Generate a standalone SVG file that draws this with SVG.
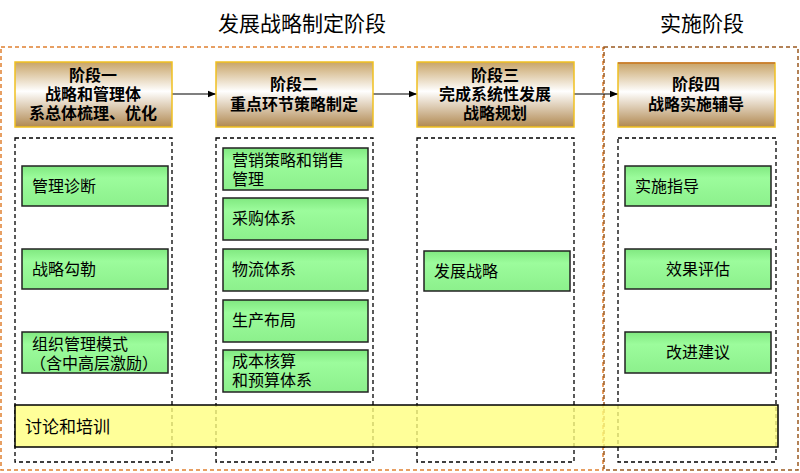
<svg xmlns="http://www.w3.org/2000/svg" width="800" height="473" viewBox="0 0 800 473">
<defs>
<linearGradient id="hg" x1="0" y1="0" x2="0" y2="1">
<stop offset="0" stop-color="#c8a468"/><stop offset="0.45" stop-color="#ffffff"/><stop offset="1" stop-color="#b08850"/>
</linearGradient>
<linearGradient id="gg" x1="0" y1="0" x2="0" y2="1">
<stop offset="0" stop-color="#80e880"/><stop offset="0.3" stop-color="#9cfc9c"/><stop offset="1" stop-color="#8cf08c"/>
</linearGradient>
<marker id="ar" viewBox="0 0 10 10" refX="10" refY="5" markerWidth="7" markerHeight="7" orient="auto"><path d="M0,1 L10,5 L0,9 z" fill="#000"/></marker>
</defs>
<style>
text{font-family:"Liberation Sans","Noto Sans CJK SC",sans-serif;fill:#000}
.h{fill:url(#hg);stroke:#f0c020;stroke-width:1.5}
.ht{font-size:16px;font-weight:bold;text-anchor:middle}
.col{fill:none;stroke:#000;stroke-dasharray:4,3;stroke-width:1.3}
.g{fill:url(#gg);stroke:#222;stroke-width:1.5}
.gt{font-size:16px}
.title{font-size:21px;text-anchor:middle}
</style>
<rect width="800" height="473" fill="#fff"/>
<text class="title" x="302" y="31">发展战略制定阶段</text>
<text class="title" x="702" y="31">实施阶段</text>
<rect x="1" y="47" width="602" height="423" fill="none" stroke="#e08030" stroke-dasharray="4,3" stroke-width="1.5"/>
<rect x="604" y="47" width="194" height="423" fill="none" stroke="#9a5a20" stroke-dasharray="4,3" stroke-width="1.5"/>
<g id="cols">
<rect class="col" x="15" y="138" width="157" height="324"/>
<rect class="col" x="216" y="138" width="157" height="324"/>
<rect class="col" x="417" y="138" width="157" height="324"/>
<rect class="col" x="618" y="138" width="158" height="324"/>
</g>
<g id="connectors" stroke="#000" stroke-width="1.2" marker-end="url(#ar)">
<line x1="172" y1="94" x2="216" y2="94"/>
<line x1="373" y1="94" x2="417" y2="94"/>
<line x1="574" y1="94" x2="618" y2="94"/>
</g>
<g id="h1"><rect class="h" x="15" y="62" width="157" height="65"/>
<text class="ht" x="93" y="81">阶段一</text><text class="ht" x="93" y="100">战略和管理体</text><text class="ht" x="93" y="119">系总体梳理、优化</text></g>
<g id="h2"><rect class="h" x="216" y="62" width="157" height="65"/>
<text class="ht" x="294" y="90">阶段二</text><text class="ht" x="294" y="110">重点环节策略制定</text></g>
<g id="h3"><rect class="h" x="417" y="62" width="157" height="65"/>
<text class="ht" x="495" y="81">阶段三</text><text class="ht" x="495" y="100">完成系统性发展</text><text class="ht" x="495" y="119">战略规划</text></g>
<g id="h4"><rect class="h" x="618" y="63" width="157" height="64"/>
<line x1="618" y1="63" x2="775" y2="63" stroke="#c07030" stroke-width="1.5"/>
<text class="ht" x="696" y="90">阶段四</text><text class="ht" x="696" y="110">战略实施辅导</text></g>
<g id="n1"><rect class="g" x="22" y="166" width="146" height="40"/><text class="gt" x="32" y="192">管理诊断</text></g>
<g id="n2"><rect class="g" x="22" y="249" width="146" height="40"/><text class="gt" x="32" y="275">战略勾勒</text></g>
<g id="n3"><rect class="g" x="22" y="332" width="146" height="41"/><text class="gt" x="32" y="350">组织管理模式</text><text class="gt" x="30" y="369">（含中高层激励）</text></g>
<g id="n4"><rect class="g" x="223" y="148" width="145" height="42"/><text class="gt" x="232" y="166">营销策略和销售</text><text class="gt" x="232" y="185">管理</text></g>
<g id="n5"><rect class="g" x="223" y="198" width="145" height="42"/><text class="gt" x="232" y="224">采购体系</text></g>
<g id="n6"><rect class="g" x="223" y="249" width="145" height="42"/><text class="gt" x="232" y="275">物流体系</text></g>
<g id="n7"><rect class="g" x="223" y="300" width="145" height="42"/><text class="gt" x="232" y="326">生产布局</text></g>
<g id="n8"><rect class="g" x="223" y="350" width="145" height="42"/><text class="gt" x="232" y="367">成本核算</text><text class="gt" x="232" y="386">和预算体系</text></g>
<g id="n9"><rect class="g" x="424" y="251" width="146" height="40"/><text class="gt" x="434" y="277">发展战略</text></g>
<g id="n10"><rect class="g" x="625" y="166" width="146" height="40"/><text class="gt" x="635" y="192">实施指导</text></g>
<g id="n11"><rect class="g" x="625" y="249" width="146" height="40"/><text class="gt" x="698" y="275" text-anchor="middle">效果评估</text></g>
<g id="n12"><rect class="g" x="625" y="332" width="146" height="41"/><text class="gt" x="698" y="358" text-anchor="middle">改进建议</text></g>
<g id="bar"><rect x="15" y="405" width="763" height="42" fill="#ffff80" fill-opacity="0.8" stroke="#000" stroke-width="1.5"/>
<text x="25" y="433" style="font-size:17px">讨论和培训</text></g>
</svg>
